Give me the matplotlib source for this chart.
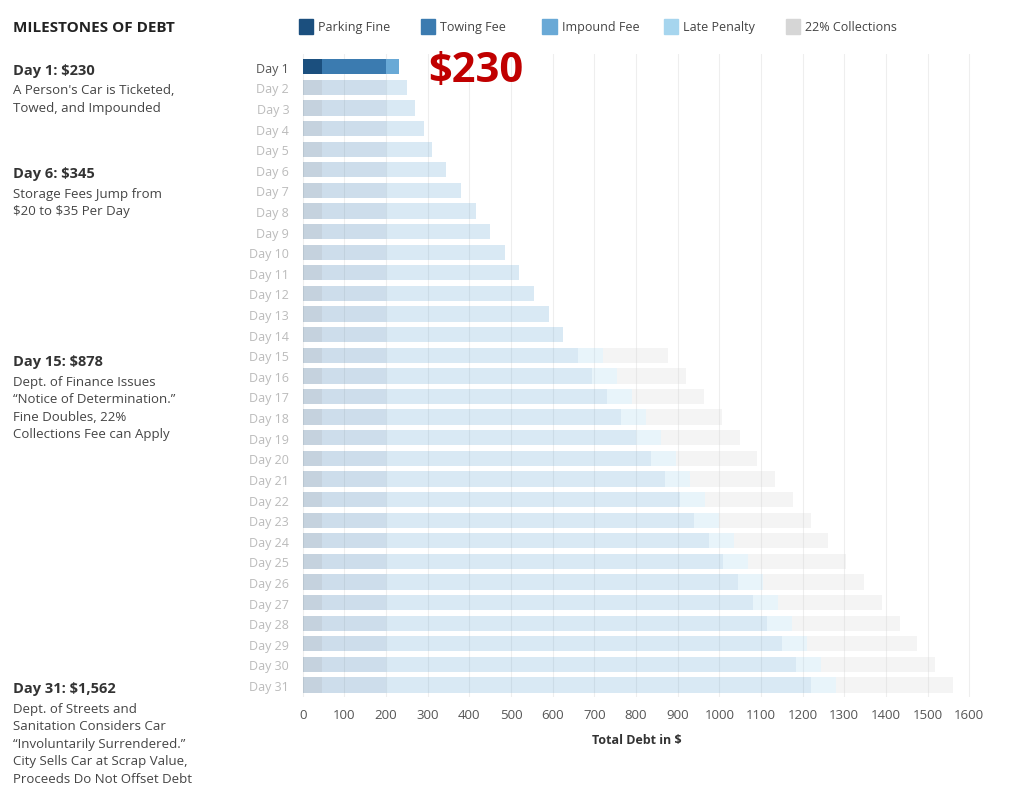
import matplotlib.pyplot as plt
from matplotlib.patches import Rectangle

plt.rcParams['font.family'] = ['Open Sans', 'DejaVu Sans']
plt.rcParams['text.parse_math'] = False

days = [f"Day {d}" for d in range(1, 32)]
parking = [45] * 31
towing = [155] * 31
impound = [30, 50, 70, 90, 110, 145, 180, 215, 250, 285, 320, 355, 390, 425,
           460, 495, 530, 565, 600, 635, 670, 705, 740, 775, 810, 845, 880,
           915, 950, 985, 1020]
late = [0] * 14 + [60] * 17
collections = [0] * 14 + [158, 166, 173, 181, 189, 196, 204, 212, 219, 227,
                          235, 242, 250, 258, 265, 273, 282]

names = ["Parking Fine", "Towing Fee", "Impound Fee", "Late Penalty", "22% Collections"]
colors = ["#1b4f7e", "#3b7bb0", "#69a9d6", "#a6d5ee", "#d6d6d6"]
series = [parking, towing, impound, late, collections]

fig = plt.figure(figsize=(10.14, 8.03), dpi=100)
ax = fig.add_axes([0.29, 0.1303, 0.6765, 0.8007])

y = list(range(31))
left = [0] * 31
for vals, c in zip(series, colors):
    for i in y:
        ax.barh(i, vals[i], left=left[i], height=0.74, color=c,
                alpha=1.0 if i == 0 else 0.25, linewidth=0, zorder=2)
    left = [l + v for l, v in zip(left, vals)]

ax.set_ylim(30.6, -0.6)
ax.set_xlim(-21, 1626)
ax.set_yticks(y)
ax.set_yticklabels(days, fontsize=9)
for i, t in enumerate(ax.get_yticklabels()):
    t.set_color("#555555" if i == 0 else "#bbbbbb")
ax.set_xticks(range(0, 1601, 100))
ax.tick_params(axis='x', labelsize=9.5, colors="#555555", length=0, pad=8)
ax.tick_params(axis='y', length=0)
ax.grid(axis='x', color="#eeeeee", linewidth=0.8, zorder=0)
for s in ax.spines.values():
    s.set_visible(False)
ax.set_xlabel("Total Debt in $", fontsize=9, fontweight='bold', color="#333333", labelpad=8)
ax.text(300, 0.2, "$230", color="#c00000", fontsize=30, fontweight='bold', va='center')

# legend
lx = [0.295, 0.415, 0.535, 0.655, 0.775]
for x, n, c in zip(lx, names, colors):
    fig.patches.append(Rectangle((x, 0.957), 0.014, 0.018, transform=fig.transFigure,
                                 color=c, figure=fig))
    fig.text(x + 0.019, 0.966, n, fontsize=9, color="#444444", va='center')

fig.text(0.013, 0.965, "MILESTONES OF DEBT", fontsize=11, fontweight='bold',
         color="#222222", va='center')
notes = [
    (0.912, "Day 1: $230", "A Person's Car is Ticketed,\nTowed, and Impounded"),
    (0.783, "Day 6: $345", "Storage Fees Jump from\n$20 to $35 Per Day"),
    (0.549, "Day 15: $878", "Dept. of Finance Issues\n\u201cNotice of Determination.\u201d\nFine Doubles, 22%\nCollections Fee can Apply"),
    (0.142, "Day 31: $1,562", "Dept. of Streets and\nSanitation Considers Car\n\u201cInvoluntarily Surrendered.\u201d\nCity Sells Car at Scrap Value,\nProceeds Do Not Offset Debt"),
]
for yy, h, b in notes:
    fig.text(0.013, yy, h, fontsize=10.5, fontweight='bold', color="#333333", va='center')
    fig.text(0.013, yy - 0.017, b, fontsize=9.5, color="#444444", va='top', linespacing=1.45)

fig.savefig("out.png", dpi=100)
